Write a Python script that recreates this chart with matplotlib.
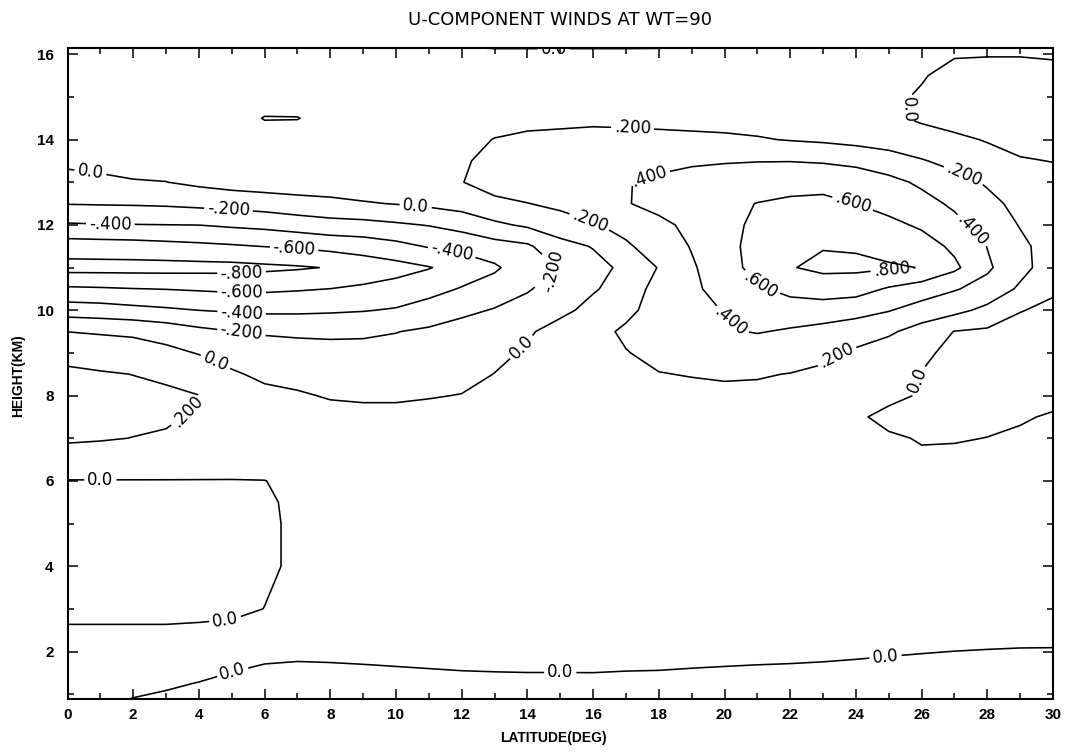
import matplotlib
matplotlib.use("Agg")
import matplotlib.pyplot as plt
import numpy as np

# ---- data (u-component, latitude x height grid) ----
latitudes = [0, 1, 2, 3, 4, 5, 6, 7, 8, 9, 10, 11, 12, 13, 14, 15, 16, 17, 18, 19,
             20, 21, 22, 23, 24, 25, 26, 27, 28, 29, 30]
heights = [0.85, 1.25, 1.5, 2.0, 2.5, 3.0, 4.0, 5.0, 5.5, 6.0, 6.5, 7.0, 7.5, 8.0, 8.5,
           9.0, 9.5, 10.0, 10.5, 11.0, 11.5, 12.0, 12.5, 13.0, 13.5, 14.0, 14.5, 15.0,
           15.5, 16.0, 16.14]
u_rows = [
    [0.05, 0.021, -0.009, -0.029, -0.05, -0.078, -0.103, -0.11, -0.107, -0.102, -0.096, -0.09, -0.084, -0.08, -0.078, -0.078, -0.077, -0.08, -0.084, -0.09, -0.096, -0.1, -0.104, -0.109, -0.116, -0.124, -0.132, -0.138, -0.144, -0.148, -0.149],
    [0.07, 0.06, 0.045, 0.02, -0.005, -0.03, -0.055, -0.062, -0.06, -0.054, -0.048, -0.042, -0.036, -0.032, -0.03, -0.03, -0.029, -0.032, -0.036, -0.042, -0.048, -0.052, -0.056, -0.061, -0.068, -0.076, -0.084, -0.09, -0.096, -0.1, -0.1],
    [0.08, 0.075, 0.07, 0.05, 0.03, -0.002, -0.025, -0.032, -0.029, -0.024, -0.018, -0.012, -0.006, -0.003, -0.001, -0.001, -0.0005, -0.005, -0.007, -0.013, -0.018, -0.023, -0.026, -0.031, -0.038, -0.047, -0.054, -0.06, -0.066, -0.07, -0.071],
    [0.06, 0.06, 0.06, 0.06, 0.07, 0.06, 0.035, 0.028, 0.031, 0.036, 0.042, 0.048, 0.054, 0.058, 0.06, 0.06, 0.061, 0.056, 0.053, 0.047, 0.042, 0.038, 0.034, 0.029, 0.022, 0.014, 0.006, -0.001, -0.006, -0.01, -0.011],
    [0.015, 0.015, 0.015, 0.015, 0.02, 0.03, 0.04, 0.088, 0.09, 0.095, 0.1, 0.1, 0.1, 0.1, 0.1, 0.1, 0.1, 0.1, 0.1, 0.1, 0.1, 0.1, 0.094, 0.089, 0.082, 0.073, 0.066, 0.06, 0.054, 0.05, 0.05],
    [-0.04, -0.04, -0.04, -0.04, -0.035, -0.03, 0.0015, 0.03, 0.07, 0.1, 0.1, 0.1, 0.1, 0.1, 0.1, 0.1, 0.1, 0.1, 0.1, 0.1, 0.1, 0.1, 0.1, 0.1, 0.1, 0.1, 0.09, 0.09, 0.09, 0.09, 0.09],
    [-0.06, -0.06, -0.06, -0.06, -0.06, -0.06, -0.02, 0.02, 0.06, 0.09, 0.1, 0.1, 0.1, 0.1, 0.1, 0.1, 0.1, 0.1, 0.1, 0.1, 0.1, 0.1, 0.1, 0.1, 0.1, 0.1, 0.1, 0.1, 0.1, 0.1, 0.1],
    [-0.06, -0.06, -0.06, -0.06, -0.06, -0.06, -0.02, 0.02, 0.06, 0.09, 0.1, 0.1, 0.1, 0.1, 0.1, 0.1, 0.1, 0.1, 0.1, 0.1, 0.1, 0.1, 0.1, 0.1, 0.1, 0.1, 0.1, 0.1, 0.1, 0.1, 0.1],
    [-0.04, -0.04, -0.04, -0.04, -0.04, -0.04, -0.018, 0.025, 0.06, 0.09, 0.1, 0.1, 0.1, 0.1, 0.1, 0.1, 0.1, 0.1, 0.1, 0.1, 0.1, 0.1, 0.1, 0.1, 0.1, 0.1, 0.1, 0.1, 0.1, 0.1, 0.1],
    [-0.005, -0.005, -0.005, -0.005, -0.005, -0.005, -0.002, 0.03, 0.06, 0.1, 0.1, 0.1, 0.1, 0.1, 0.1, 0.1, 0.1, 0.1, 0.1, 0.1, 0.1, 0.1, 0.1, 0.1, 0.1, 0.1, 0.08, 0.09, 0.09, 0.1, 0.1],
    [0.1, 0.1, 0.095, 0.09, 0.08, 0.07, 0.06, 0.06, 0.08, 0.1, 0.1, 0.1, 0.1, 0.1, 0.1, 0.1, 0.1, 0.1, 0.1, 0.1, 0.1, 0.1, 0.1, 0.1, 0.07, 0.06, 0.021, 0.047, 0.055, 0.08, 0.1],
    [0.23, 0.215, 0.197, 0.18, 0.14, 0.12, 0.11, 0.1, 0.1, 0.1, 0.1, 0.1, 0.1, 0.1, 0.1, 0.1, 0.1, 0.1, 0.1, 0.1, 0.1, 0.1, 0.1, 0.08, 0.05, 0.02, -0.01, -0.015, 0.003, 0.03, 0.05],
    [0.26, 0.255, 0.24, 0.225, 0.175, 0.13, 0.1, 0.08, 0.06, 0.05, 0.05, 0.055, 0.07, 0.1, 0.1, 0.1, 0.1, 0.1, 0.12, 0.12, 0.12, 0.12, 0.12, 0.1, 0.025, -0.0425, -0.06, -0.06, -0.05, -0.02, 0.02],
    [0.25, 0.245, 0.235, 0.23, 0.202, 0.1, 0.05, 0.02, -0.015, -0.025, -0.025, -0.01, 0.005, 0.05, 0.1, 0.12, 0.14, 0.15, 0.16, 0.17, 0.17, 0.17, 0.16, 0.14, 0.08, 0.04, -0.015, -0.05, -0.07, -0.07, -0.06],
    [0.23, 0.215, 0.198, 0.17, 0.12, 0.025, -0.04, -0.06, -0.07, -0.08, -0.08, -0.07, -0.05, 0.003, 0.06, 0.1, 0.14, 0.17, 0.196, 0.205, 0.215, 0.21, 0.196, 0.17, 0.12, 0.06, -0.005, -0.06, -0.08, -0.08, -0.07],
    [0.15, 0.12, 0.08, 0.05, -0.01, -0.08, -0.11, -0.13, -0.14, -0.14, -0.14, -0.12, -0.09, -0.04, 0.02, 0.1, 0.15, 0.195, 0.23, 0.27, 0.3, 0.3, 0.27, 0.235, 0.17, 0.1, 0.03, -0.04, -0.08, -0.08, -0.07],
    [-0.002, -0.02, -0.03, -0.08, -0.15, -0.195, -0.22, -0.23, -0.235, -0.23, -0.205, -0.17, -0.12, -0.07, -0.02, 0.06, 0.16, 0.22, 0.29, 0.34, 0.38, 0.41, 0.38, 0.34, 0.29, 0.23, 0.12, -0.005, -0.03, -0.05, -0.05],
    [-0.294, -0.31, -0.343, -0.371, -0.401, -0.421, -0.438, -0.436, -0.425, -0.41, -0.383, -0.313, -0.245, -0.187, -0.133, -0.037, 0.045, 0.17, 0.25, 0.33, 0.41, 0.47, 0.5, 0.5, 0.47, 0.41, 0.32, 0.255, 0.15, 0.006, -0.03],
    [-0.569, -0.58, -0.595, -0.605, -0.62, -0.636, -0.633, -0.617, -0.598, -0.568, -0.529, -0.47, -0.386, -0.31, -0.215, -0.122, -0.014, 0.06, 0.29, 0.36, 0.48, 0.57, 0.66, 0.7, 0.68, 0.58, 0.5, 0.415, 0.33, 0.17, 0.02],
    [-0.87, -0.87, -0.87, -0.87, -0.865, -0.86, -0.84, -0.82, -0.79, -0.72, -0.67, -0.61, -0.52, -0.43, -0.28, -0.19, -0.06, 0.04, 0.21, 0.38, 0.5, 0.68, 0.79, 0.84, 0.84, 0.82, 0.795, 0.64, 0.43, 0.26, 0.1],
    [-0.7, -0.69, -0.68, -0.66, -0.64, -0.62, -0.595, -0.576, -0.538, -0.508, -0.456, -0.385, -0.342, -0.278, -0.23, -0.059, 0.01, 0.17, 0.3, 0.41, 0.545, 0.66, 0.74, 0.79, 0.78, 0.74, 0.69, 0.56, 0.395, 0.24, 0.12],
    [-0.42, -0.41, -0.406, -0.402, -0.398, -0.371, -0.348, -0.307, -0.27, -0.26, -0.227, -0.191, -0.13, -0.037, 0.03, 0.1, 0.18, 0.27, 0.36, 0.44, 0.54, 0.64, 0.68, 0.7, 0.69, 0.65, 0.57, 0.45, 0.32, 0.19, 0.13],
    [-0.192, -0.186, -0.181, -0.171, -0.15, -0.133, -0.107, -0.074, -0.052, -0.016, 0.008, 0.04, 0.08, 0.16, 0.195, 0.25, 0.32, 0.39, 0.45, 0.5, 0.55, 0.605, 0.625, 0.63, 0.599, 0.53, 0.46, 0.37, 0.25, 0.15, 0.09],
    [-0.064, -0.035, -0.012, -0.003, 0.04, 0.08, 0.1, 0.11, 0.12, 0.12, 0.12, 0.15, 0.195, 0.27, 0.33, 0.36, 0.38, 0.395, 0.42, 0.44, 0.47, 0.5, 0.55, 0.56, 0.52, 0.45, 0.37, 0.27, 0.18, 0.1, 0.04],
    [0.04, 0.05, 0.07, 0.08, 0.09, 0.1, 0.1, 0.1, 0.1, 0.1, 0.1, 0.1, 0.185, 0.235, 0.28, 0.3, 0.31, 0.33, 0.37, 0.385, 0.39, 0.395, 0.395, 0.38, 0.35, 0.3, 0.215, 0.14, 0.06, 0.01, -0.003],
    [0.1, 0.1, 0.1, 0.1, 0.1, 0.1, 0.1, 0.1, 0.1, 0.1, 0.1, 0.1, 0.15, 0.205, 0.23, 0.24, 0.25, 0.25, 0.25, 0.24, 0.23, 0.215, 0.19, 0.17, 0.14, 0.1, 0.06, 0.03, -0.01, -0.04, -0.06],
    [0.1, 0.1, 0.1, 0.1, 0.1, 0.1, 0.21, 0.207, 0.12, 0.12, 0.12, 0.12, 0.12, 0.14, 0.155, 0.16, 0.167, 0.16, 0.146, 0.14, 0.136, 0.12, 0.11, 0.09, 0.06, 0.025, -0.02, -0.06, -0.08, -0.09, -0.1],
    [0.1, 0.1, 0.1, 0.1, 0.1, 0.1, 0.1, 0.1, 0.1, 0.1, 0.1, 0.1, 0.1, 0.1, 0.1, 0.1, 0.1, 0.1, 0.1, 0.1, 0.1, 0.1, 0.1, 0.08, 0.06, 0.026, -0.014, -0.07, -0.09, -0.09, -0.09],
    [0.08, 0.08, 0.08, 0.08, 0.08, 0.08, 0.08, 0.08, 0.08, 0.08, 0.08, 0.08, 0.08, 0.08, 0.08, 0.08, 0.08, 0.08, 0.08, 0.08, 0.08, 0.08, 0.08, 0.07, 0.05, 0.03, 0.01, -0.04, -0.05, -0.05, -0.045],
    [0.05, 0.05, 0.05, 0.05, 0.05, 0.05, 0.05, 0.05, 0.05, 0.05, 0.05, 0.05, 0.05, 0.05, 0.05, 0.05, 0.05, 0.05, 0.05, 0.05, 0.05, 0.05, 0.05, 0.05, 0.05, 0.05, 0.04, 0.01, 0.007, 0.007, 0.016],
    [0.04, 0.04, 0.04, 0.04, 0.04, 0.04, 0.04, 0.04, 0.04, 0.04, 0.04, 0.04, 0.01, -0.003, -0.003, -0.003, -0.003, -0.003, -0.001, 0.01, 0.04, 0.04, 0.04, 0.04, 0.04, 0.04, 0.04, 0.01, 0.008, 0.008, 0.02],
]
contour_levels = [-0.8, -0.6, -0.4, -0.2, 0.0, 0.2, 0.4, 0.6, 0.8]
x_ticks = [0, 2, 4, 6, 8, 10, 12, 14, 16, 18, 20, 22, 24, 26, 28, 30]
y_ticks = [2, 4, 6, 8, 10, 12, 14, 16]

# where the contour labels sit (as in the reference)
label_spots = [
    (14.8, 16.13), (17.2, 14.25), (25.6, 14.7), (0.7, 13.25), (4.9, 12.33),
    (10.6, 12.45), (1.3, 12.02), (6.9, 11.46), (11.7, 11.37), (5.3, 10.87),
    (5.3, 10.42), (5.3, 9.94), (5.3, 9.5), (14.75, 10.95), (13.8, 9.15),
    (4.5, 8.78), (3.7, 7.6), (15.9, 12.1), (17.7, 13.15), (23.9, 12.5),
    (25.1, 10.9), (21.1, 10.6), (20.2, 9.75), (27.3, 13.2), (27.5, 11.85),
    (23.4, 8.95), (25.9, 8.35), (4.8, 2.75), (1.0, 6.05), (5.0, 1.6),
    (15.0, 1.5), (24.9, 1.88),
]

plt.rcParams['contour.negative_linestyle'] = 'solid'
label_font = ['Liberation Sans', 'DejaVu Sans']

fig = plt.figure(figsize=(10.65, 7.52), dpi=100)
ax = fig.add_axes([67.5 / 1065, 1 - 699.3 / 752, (1053 - 67.5) / 1065, (699.3 - 48.3) / 752])

U = np.array(u_rows)
cs = ax.contour(latitudes, heights, U, levels=contour_levels, colors='black',
                linewidths=1.15, linestyles='solid')


def fmt(v):
    if abs(v) < 1e-9:
        return "0.0"
    s = f"{v:.3f}"
    return s.replace("0.", ".", 1)


ax.clabel(cs, manual=label_spots, fmt=fmt, inline=True, inline_spacing=3,
          fontsize=12)

ax.set_xlim(0, 30)
ax.set_ylim(0.88, 16.14)
ax.set_xticks(x_ticks)
ax.set_xticks(range(0, 31), minor=True)
ax.set_yticks(y_ticks)
ax.set_yticks(range(1, 17), minor=True)
ax.tick_params(which='both', direction='in', top=True, right=True, width=1.1)
ax.tick_params(which='major', length=7)
ax.tick_params(which='minor', length=4.3)
ax.tick_params(axis='x', which='major', pad=6)
ax.tick_params(axis='y', which='major', pad=10)
for lab in ax.get_xticklabels() + ax.get_yticklabels():
    lab.set_fontfamily(label_font)
    lab.set_fontweight('bold')
    lab.set_fontsize(11)
for sp in ax.spines.values():
    sp.set_linewidth(1.5)

fig.text(560 / 1065, 1 - 20 / 752, "U-COMPONENT WINDS AT WT=90", ha='center', va='center',
         fontsize=13, family=['Liberation Sans Narrow', 'DejaVu Sans'])
fig.text(553 / 1065, 1 - 738 / 752, "LATITUDE(DEG)", ha='center', va='center',
         fontsize=10, fontweight='bold', family=label_font)
fig.text(18 / 1065, 1 - 376 / 752, "HEIGHT(KM)", ha='center', va='center', rotation=90,
         fontsize=10, fontweight='bold', family=label_font)

fig.savefig("out.png", dpi=100)
